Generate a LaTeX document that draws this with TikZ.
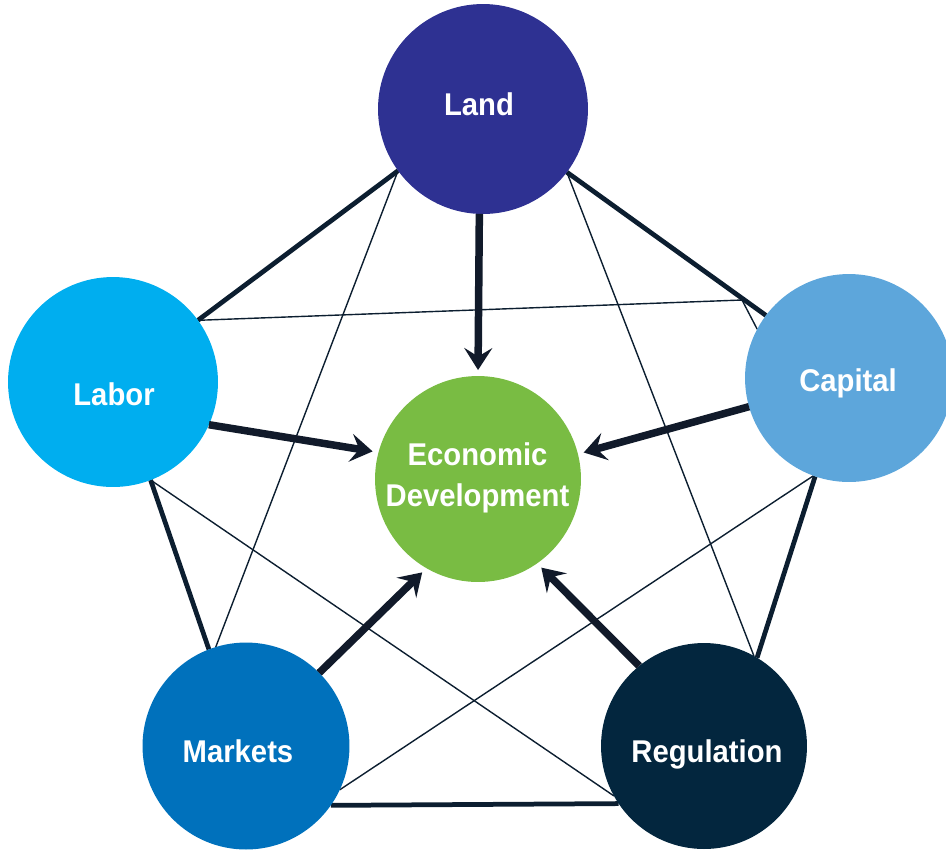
\documentclass[tikz,border=0pt]{standalone}
\usepackage{fontspec}
\setmainfont{Liberation Sans}[FakeStretch=0.93]
\usetikzlibrary{arrows.meta}
\usetikzlibrary{backgrounds}

\definecolor{landc}{HTML}{2E3192}
\definecolor{laborc}{HTML}{00AEEF}
\definecolor{capitalc}{HTML}{5DA6DB}
\definecolor{marketsc}{HTML}{0071BC}
\definecolor{regc}{HTML}{03263E}
\definecolor{econc}{HTML}{79BC43}
\definecolor{edgec}{HTML}{0C1E30}
\definecolor{arrc}{HTML}{111A2A}

\tikzset{
  hub/.style={circle, inner sep=0pt, outer sep=0pt},
  lbl/.style={text=white, inner sep=0pt, font=\fontsize{17.9}{23.3}\selectfont\bfseries},
  rim/.style={draw=edgec, line width=0.095cm},
  chord/.style={draw=edgec, line width=0.028cm},
  feed/.style={draw=arrc, line width=0.15cm, shorten >=0.12cm,
    -{Stealth[length=0.44cm, width=0.56cm, inset=0.17cm]}}
}

\begin{document}
\begin{tikzpicture}[x=0.02cm, y=-0.02cm]
  \useasboundingbox (0,0) rectangle (946,850);

  \node[hub, fill=landc, minimum size=4.2cm] (land) at (483,109) {};
  \node[hub, fill=laborc, minimum size=4.2cm] (labor) at (113,382) {};
  \node[hub, fill=capitalc, minimum size=4.16cm] (capital) at (849,378) {};
  \node[hub, fill=marketsc, minimum size=4.14cm] (markets) at (246,746) {};
  \node[hub, fill=regc, minimum size=4.12cm] (regulation) at (704,746) {};
  \node[hub, fill=econc, minimum size=4.12cm] (econ) at (478,479) {};

  \node[lbl, anchor=base] (landtxt) at (479,115) {Land};
  \node[lbl, anchor=base] (labortxt) at (114,405) {Labor};
  \node[lbl, anchor=base] (capitaltxt) at (848,391) {Capital};
  \node[lbl, anchor=base] (marketstxt) at (238,762) {Markets};
  \node[lbl, anchor=base] (regtxt) at (707,762) {Regulation};
  \node[lbl, anchor=base, align=center] (econtxt) at (477.5,506) {Economic\\Development};

  \coordinate (bend) at (742,300);

  \begin{scope}[on background layer]
    \draw[rim] (land.216.5) -- (labor.36.4);
    \draw[rim] (land.323.5) -- (capital.143);
    \draw[rim] (labor.291.5) -- (markets.111.7);
    \draw[rim] (capital.251) -- (regulation.59.8);
    \draw[rim] (markets.325.5) -- (regulation.214);

    \draw[chord] (land.216.5) -- (markets.107.4);
    \draw[chord] (land.323.5) -- (regulation.61);
    \draw[chord] (labor.36.4) -- (bend) -- (capital.152.5);
    \draw[chord] (labor.291.5) -- (regulation.209.3);
    \draw[chord] (capital.250) -- (markets.335);
  \end{scope}

  \draw[feed] (land.268) -- (econ.90);
  \draw[feed] (labor.-24.4) -- (econ.165.6);
  \draw[feed] (capital.196.5) -- (econ.14.4);
  \draw[feed] (markets.45.8) -- (econ.240.6);
  \draw[feed] (regulation.129.6) -- (econ.305.5);
\end{tikzpicture}
\end{document}
